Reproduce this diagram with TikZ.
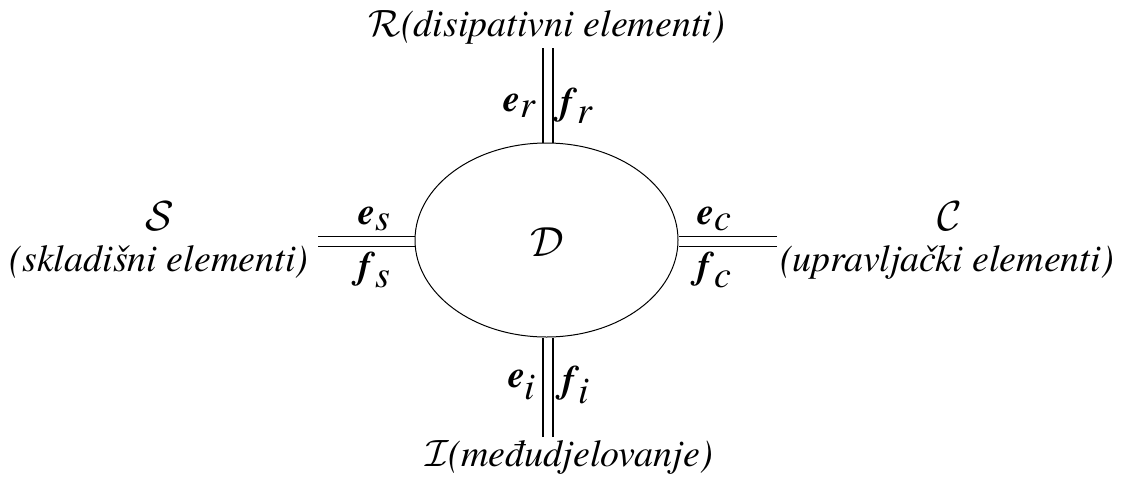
\RequirePackage{fix-cm}
\documentclass[tikz,border=0pt]{standalone}
\usepackage{fontspec}
\setmainfont{texgyretermes}[Extension=.otf,UprightFont=*-regular,ItalicFont=*-italic,BoldFont=*-bold,BoldItalicFont=*-bolditalic]
\usetikzlibrary{shapes.geometric}
\begin{document}
\begin{tikzpicture}[x=1pt,y=-1pt,
  lbl/.style={inner sep=0pt,font=\fontsize{38}{42}\selectfont\itshape},
  var/.style={inner sep=0pt,font=\fontsize{38}{42}\selectfont},
  cal/.style={inner sep=0pt,font=\fontsize{42}{46}\selectfont},
  dbl/.style={line width=1.2pt}]
\useasboundingbox (0,0) rectangle (1126,482);
\node[draw,line width=1pt,ellipse,minimum width=263pt,minimum height=194pt,inner sep=0pt] (D) at (546.5,240) {};
\node[cal] (Dl) at (547,242) {$\mathcal{D}$};
% top
\coordinate (t1) at (543,48); \coordinate (t2) at (553,48);
\draw[dbl] (t1) -- (t1 |- D.north);
\draw[dbl] (t2) -- (t2 |- D.north);
% bottom
\coordinate (b1) at (543,437); \coordinate (b2) at (553,437);
\draw[dbl] (b1) -- (b1 |- D.south);
\draw[dbl] (b2) -- (b2 |- D.south);
% left
\coordinate (l1) at (318,236.7); \coordinate (l2) at (318,246.7);
\draw[dbl] (l1) -- (D.west |- l1);
\draw[dbl] (l2) -- (D.west |- l2);
% right
\coordinate (r1) at (777,236.7); \coordinate (r2) at (777,246.7);
\draw[dbl] (r1) -- (D.east |- r1);
\draw[dbl] (r2) -- (D.east |- r2);
% labels
\node[var] (er) at (520,106) {$\textbf{\textit{e}}_{\textit{r}}$};
\node[var] (fr) at (577,106) {$\textbf{\textit{f}}_{\textit{r}}$};
\node[var] (es) at (375,219) {$\textbf{\textit{e}}_{\textit{s}}$};
\node[var] (fs) at (375,270) {$\textbf{\textit{f}}_{\textit{s}}$};
\node[var] (ec) at (715,219) {$\textbf{\textit{e}}_{\textit{c}}$};
\node[var] (fc) at (715,270) {$\textbf{\textit{f}}_{\textit{c}}$};
\node[var] (ei) at (522,385) {$\textbf{\textit{e}}_{\textit{i}}$};
\node[var] (fi) at (576,385) {$\textbf{\textit{f}}_{\textit{i}}$};
\node[lbl] (R) at (547,27) {$\mathcal{R}$(disipativni elementi)};
\node[lbl] (I) at (569,457) {$\mathcal{I}$(međudjelovanje)};
\node[cal] (S) at (160,216) {$\mathcal{S}$};
\node[lbl] (Sl) at (159,262) {(skladišni elementi)};
\node[cal] (C) at (950,216) {$\mathcal{C}$};
\node[lbl] (Cl) at (947,262) {(upravljački elementi)};
\end{tikzpicture}
\end{document}
